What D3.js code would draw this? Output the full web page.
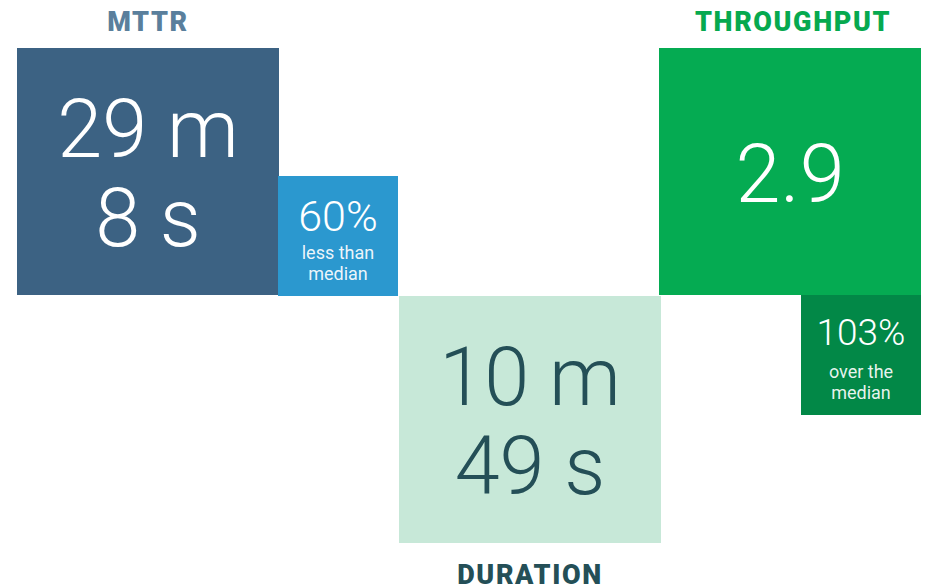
<!DOCTYPE html>
<html>
<head>
<meta charset="utf-8">
<script src="https://cdn.jsdelivr.net/npm/d3@7"></script>
<style>
  html, body { margin: 0; padding: 0; background: #fff; }
  svg { display: block; font-family: Roboto, "Open Sans", sans-serif; }
</style>
</head>
<body>
<div id="chart"></div>
<script>
// Metric data
const metricNames = ['MTTR', 'DURATION', 'THROUGHPUT'];
const metricValueLines = [['29 m', '8 s'], ['10 m', '49 s'], ['2.9']];
const comparePercents = ['60%', null, '103%'];
const compareLabels = [['less than', 'median'], null, ['over the', 'median']];

// Colours per metric
const mainColors = ['#3c6283', '#c7e8d8', '#05ab52'];
const mainTextColors = ['#ffffff', '#244f57', '#ffffff'];
const compareColors = ['#2b98cf', null, '#028847'];
const labelColors = ['#5a7f9c', '#244f57', '#06a94f'];

const width = 930;
const height = 588;

const svg = d3.select('#chart')
  .append('svg')
  .attr('width', width)
  .attr('height', height);

// Layout: main box columns and rows (staggered)
const boxW = 262, boxH = 247, smallS = 120;
const x = d3.scaleOrdinal().domain(metricNames).range([17, 399, 659]);
const y = d3.scaleOrdinal().domain(metricNames).range([48, 296, 48]);
const labelAbove = { MTTR: true, DURATION: false, THROUGHPUT: true };

const data = metricNames.map((name, i) => ({
  name,
  lines: metricValueLines[i],
  pct: comparePercents[i],
  sub: compareLabels[i],
  fill: mainColors[i],
  text: mainTextColors[i],
  cfill: compareColors[i],
  lfill: labelColors[i]
}));

const g = svg.selectAll('g.metric')
  .data(data)
  .enter()
  .append('g')
  .attr('class', 'metric');

// Main boxes
g.append('rect')
  .attr('x', d => x(d.name))
  .attr('y', d => y(d.name))
  .attr('width', boxW)
  .attr('height', boxH)
  .attr('fill', d => d.fill);

// Big value text
g.each(function(d) {
  const sel = d3.select(this);
  const cx = x(d.name) + boxW / 2;
  const n = d.lines.length;
  const lineH = 89;
  const firstBase = y(d.name) + boxH / 2 + 30 - (n - 1) * lineH / 2;
  d.lines.forEach((t, j) => {
    sel.append('text')
      .attr('x', cx)
      .attr('y', firstBase + j * lineH)
      .attr('text-anchor', 'middle')
      .attr('font-size', 81)
      .attr('font-weight', 300)
      .attr('fill', d.text)
      .text(t);
  });

  // Metric label
  sel.append('text')
    .attr('x', cx + (d.name === 'THROUGHPUT' ? 3 : 0))
    .attr('y', labelAbove[d.name] ? y(d.name) - 17 : y(d.name) + boxH + 41)
    .attr('text-anchor', 'middle')
    .attr('font-size', 27)
    .attr('font-weight', 900)
    .attr('letter-spacing', 1.6)
    .attr('fill', d.lfill)
    .text(d.name);

  // Comparison box
  if (d.pct) {
    let bx, by;
    if (d.name === 'MTTR') {
      bx = x(d.name) + boxW - 1;
      by = y(d.name) + boxH - smallS + 1;
    } else {
      bx = x(d.name) + boxW - smallS;
      by = y(d.name) + boxH;
    }
    sel.append('rect')
      .attr('x', bx)
      .attr('y', by)
      .attr('width', smallS)
      .attr('height', smallS)
      .attr('fill', d.cfill);
    const pctSize = d.pct.length > 3 ? 37 : 43;
    sel.append('text')
      .attr('x', bx + smallS / 2)
      .attr('y', by + 55 - (d.pct.length > 3 ? 5 : 0))
      .attr('text-anchor', 'middle')
      .attr('font-size', pctSize)
      .attr('font-weight', 300)
      .attr('fill', '#fff')
      .text(d.pct);
    d.sub.forEach((t, j) => {
      sel.append('text')
        .attr('x', bx + smallS / 2)
        .attr('y', by + 83 + j * 21)
        .attr('text-anchor', 'middle')
        .attr('font-size', 18)
        .attr('fill', '#fff')
        .attr('fill-opacity', 0.92)
        .text(t);
    });
  }
});
</script>
</body>
</html>
